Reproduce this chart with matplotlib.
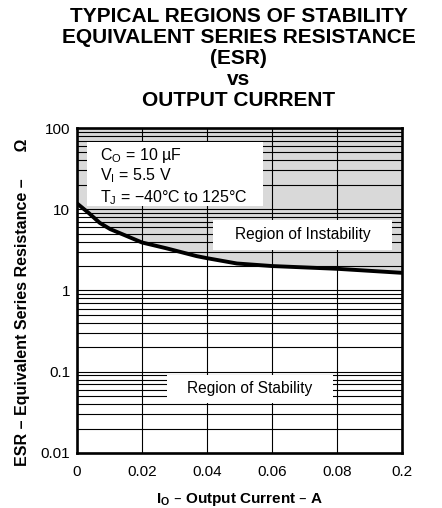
import numpy as np
import matplotlib
matplotlib.use("Agg")
import matplotlib.pyplot as plt
from matplotlib.ticker import FixedLocator, FixedFormatter, LogLocator, NullLocator, NullFormatter
from matplotlib.patches import Rectangle

plt.rcParams["font.family"] = ["Liberation Sans", "DejaVu Sans"]
plt.rcParams["mathtext.default"] = "regular"

# data (Io in A, ESR in ohm)
current = [0.0, 0.0036, 0.007, 0.0102, 0.0152, 0.02, 0.0276, 0.0368, 0.04,
           0.0492, 0.06, 0.08, 0.2]
esr = [11.8, 9.0, 6.8, 5.7, 4.7, 3.9, 3.3, 2.65, 2.5, 2.15, 2.0, 1.85, 1.65]

x_ticks = [0, 0.02, 0.04, 0.06, 0.08, 0.2]
x_labels = ["0", "0.02", "0.04", "0.06", "0.08", "0.2"]
y_ticks = [0.01, 0.1, 1, 10, 100]
y_labels = ["0.01", "0.1", "1", "10", "100"]

# axis is evenly spaced between the labelled currents
pos = np.arange(len(x_ticks), dtype=float)


def fwd(v):
    return np.interp(v, x_ticks, pos)


def inv(p):
    return np.interp(p, pos, x_ticks)


fig = plt.figure(figsize=(4.42, 5.08), dpi=100)
ax = fig.add_axes([0.1742, 0.1083, 0.7353, 0.6397])
ax.set_xscale("function", functions=(fwd, inv))
ax.set_yscale("log")
ax.set_xlim(0, 0.2)
ax.set_ylim(0.01, 100)

ax.xaxis.set_major_locator(FixedLocator(x_ticks))
ax.xaxis.set_major_formatter(FixedFormatter(x_labels))
ax.xaxis.set_minor_locator(NullLocator())
ax.yaxis.set_major_locator(FixedLocator(y_ticks))
ax.yaxis.set_major_formatter(FixedFormatter(y_labels))
ax.yaxis.set_minor_locator(LogLocator(base=10, subs=np.arange(2, 10)))
ax.yaxis.set_minor_formatter(NullFormatter())
ax.tick_params(which="both", length=0, labelsize=11, colors="black")
ax.tick_params(axis="x", pad=9)
ax.tick_params(axis="y", pad=5)

ax.set_axisbelow(True)
ax.grid(axis="x", which="major", color="black", lw=0.8)
ax.grid(axis="y", which="both", color="black", lw=0.8)
for s in ax.spines.values():
    s.set_linewidth(1.9)

ax.fill_between(current, esr, 100, color="#d9d9d9", lw=0, zorder=0.2)
ax.plot(current, esr, color="black", lw=2.8, zorder=4, solid_capstyle="butt")

# white label boxes
for (x0, y0, w, h) in [(0.031, 0.760, 0.541, 0.197),
                       (0.418, 0.625, 0.551, 0.092),
                       (0.277, 0.154, 0.511, 0.086)]:
    ax.add_patch(Rectangle((x0, y0), w, h, transform=ax.transAxes,
                           facecolor="white", edgecolor="none", zorder=2))

ax.text(0.071, 0.914, "C$_{O}$ = 10 µF", transform=ax.transAxes,
        fontsize=11.5, va="center", ha="left", zorder=3)
ax.text(0.071, 0.852, "V$_{I}$ = 5.5 V", transform=ax.transAxes,
        fontsize=11.5, va="center", ha="left", zorder=3)
ax.text(0.071, 0.785, "T$_{J}$ = \u221240°C to 125°C", transform=ax.transAxes,
        fontsize=11.5, va="center", ha="left", zorder=3)
ax.text(0.694, 0.671, "Region of Instability", transform=ax.transAxes,
        fontsize=11.2, va="center", ha="center", zorder=3)
ax.text(0.532, 0.197, "Region of Stability", transform=ax.transAxes,
        fontsize=11.2, va="center", ha="center", zorder=3)

fig.text(0.540, 0.885,
         "TYPICAL REGIONS OF STABILITY\nEQUIVALENT SERIES RESISTANCE\n(ESR)\nvs\nOUTPUT CURRENT",
         ha="center", va="center", fontsize=15, fontweight="bold",
         linespacing=1.12, multialignment="center")
fig.text(0.541, 0.017, "I$_{O}$ \u2013 Output Current \u2013 A",
         ha="center", va="center", fontsize=11, fontweight="bold")
fig.text(0.05, 0.405, "ESR \u2013 Equivalent Series Resistance \u2013      \u03a9",
         ha="center", va="center", rotation=90, fontsize=11.5, fontweight="bold")

fig.savefig("out.png", dpi=100)
